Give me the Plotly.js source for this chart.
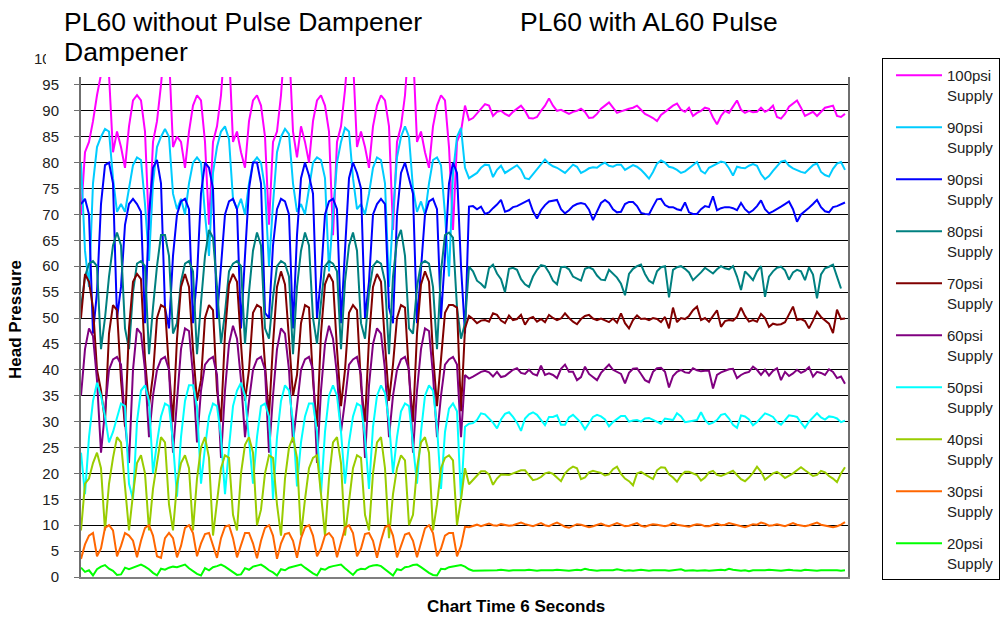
<!DOCTYPE html>
<html>
<head>
<meta charset="utf-8">
<script src="https://cdn.plot.ly/plotly-3.0.1.min.js"></script>
<style>
html,body{margin:0;padding:0;background:#ffffff;}
#chart{width:1004px;height:617px;}
</style>
</head>
<body>
<div id="chart"></div>
<script>
// Head pressure samples: first part "without Pulse Dampener", second part "with AL60 Pulse Dampener"
const psi100Without = [70,82,84,88,93,97,104,97,82,86,83,79,87,92,93,92,86,67,84,88,95,104,101,83,85,84,79,86,91,93,92,84,68,84,87,93,104,102,84,86,82,79,88,92,93,91,85,68,84,86,93,104,103,86,81,87,84,80,88,92,93,91,86,66,84,87,94,104,100,83,86,83,79,87,91,93,92,87,67,84,87,93,104,102,84,86,82,79,87,91,93,92,83,67,84,86,91];
const psi100With = [88.2,88.6,89.5,90.6,91.3,91,89,89.8,90,89.4,89,89.8,90.4,91,90,88.6,88.5,88.8,90,91,92.4,91,90,90.2,89.8,89.4,89.8,90,90.4,89.8,88.6,88.7,89.4,90.4,91,91.6,90.6,89.6,89.9,90.2,90.4,90.6,91,90.2,89.4,89,88.6,88,89.2,89.8,90.4,91,91.4,90.2,89.8,90.6,89,89.6,90,90.6,90.4,88.7,87.4,89,90,89.6,90.8,92,90.2,89.6,90,89.7,89.8,90.6,89.8,90.2,91,88.8,88.5,89.4,90.8,91.4,92,90.6,89,89.4,89.8,89,89.8,90.6,90.8,91,89,88.8,89.4];

const psi90aWithout = [80,63,56,76,83,85,86.5,86,77,70.5,72,70.5,75,79.5,81,80.5,72,61,76,83,85,86.5,85,74,71,73,70,76,80,81,80,70,62,78,83,86,87,84.5,73,71,73,70,76,80,81,80,75,60,72,82,85,86.5,85.5,76,70.5,72,70,75,80,81,80.5,77,59,70,80,84,86.7,86,77,71,72,70,74,79,81,80.5,76,56,70,81,85,87,85,75,70.5,72.5,70,76,80.5,81,79.5,70,58,78,85,86.7,79];
const psi90aWith = [77,77.5,78,79,79.6,79.5,77.2,78.6,79.4,78,78.5,79,79.5,78.6,77,76.8,77.8,78.8,79.7,80.6,79.8,79.3,79,78.5,78,78.8,79.6,79.2,78,78.4,78.9,79.1,79,79.6,80,79.4,79.2,79.6,79.6,78.6,79.1,79.5,79.2,78.6,77.8,76.9,78.2,79.8,80.4,80,79.2,79,78.6,78,78.3,78.9,79.6,80.1,78.4,77.9,79,79.4,79.8,80.2,80,78.9,77.5,79.2,79,78.9,79.4,79.7,79.4,77.8,76.8,77.4,78.4,79.2,80.2,80.4,79.4,78.9,78.5,78.2,78,78.8,79.5,79.8,78.2,77.6,77.3,78.8,79.8,80.1,78.6];

const psi90bWithout = [72,73,70,47,55,72,79.5,80,76,50,56,68,72,73,72,70.5,49,70,79,80.5,76,52,48,62,70,72.5,73,71,49,58,74,80,79,75,50,60,70,72.5,73,71,48,62,75,80,80,76,51,50,64,71,73,72.5,70,48,66,77,80,77.5,74,50,58,70,72.5,73,71,49,64,77,80,78,75,50,57,70,72,73,72,52,49,70,78,80,77,74,49,60,70,72.5,73,71,50,62,76,80,78,60,47];
const psi90bWith = [71.5,71.6,71,71.5,70.1,70.4,71.2,71.9,72.8,70.5,70.8,71.4,71.6,72,72.4,72.8,70.6,69.2,70.8,71.8,72.5,72.6,72.8,71,70.2,70.8,71.6,72,72.2,72,70.9,68.9,70.4,72.2,72.8,72.2,71,70.4,70.5,72,72.4,72.4,71.6,70.3,70.1,70,71.5,72.9,73,71.8,71.4,71.4,71,70.8,72.3,70.4,70.1,70.1,71,71.6,71.4,73.5,70.8,71.2,71.4,71.4,71.2,70.8,72.2,71,70.3,70.8,71.6,72.7,71,70.2,70.6,71,71.5,72,72.5,71,68.6,70,70.6,71.3,72,72.8,71.4,70.6,70.4,71.4,71.6,72,72.3];

const psi80Without = [52,58,60.5,61,60,44,50,58,64,66.5,64,48,44,55,60.5,61,60,43,52,60,66,66,62,47,49,57,60.5,61,59,43,53,62,67,65.5,56,45,51,59,60.5,61,60,45,55,63,66.5,64,48,46,54,60,61,60.5,58,43,56,63,66.5,64,50,45,53,60,61,60.5,59,44,57,64,66.5,63,49,46,55,60,61,60.5,57,43,58,65,67,62,48,47,56,60.5,61,60.5,56,44,59,66,66.5,65.5,52,46,49];
const psi80With = [59.9,59,57.2,56.6,55.8,59.6,60.3,58.6,57.5,55,59.5,59.7,59.3,57.5,56.5,56,58,59.3,60.2,60,58.8,57.2,56.5,59.8,59.9,59.4,58,57.6,57.2,59.5,59.8,59.4,58.2,57.4,57.3,59.3,58.6,57.8,56.6,54.4,58.5,59.5,60,60.3,58.5,57.2,56.7,59,59.8,60,54,59.3,59.8,60,59.5,58.8,57.3,58,58.8,59.7,59.2,58.6,59.4,60,59.6,59.4,60,58,55.4,59,58.2,57.3,59,60,54.1,58,59,59.7,59.9,59.2,57.4,58.8,59.3,59,57.3,59.8,58.4,53.8,58.4,59.6,59.9,60.3,58,55.7,null];

const psi70Without = [50,58.5,57,52,40,36,30,47,52.5,51.5,38,29,48,57,58.5,57.5,42,33,39,50,52.5,52,40,30,46,56,58.5,56,44,34,38,50,52.5,51.5,36,30,47,56.5,58.5,57,45,34,40,51,52.5,52,41,31,45,56,59,56.5,46,35,39,49,52.5,52,38,29,47,56.5,58.5,57,44,33,40,51,52.5,51.5,37,30,46,56,58.5,57,45,34,41,50,52.5,52,39,30,47,56.5,59,57,43,33,42,51,52.5,52.5,52,32,48];
const psi70With = [50.4,49.8,49,49.5,49.6,49.3,50.9,50.6,49.5,49,50.5,49.6,49.8,50.6,48.7,49.9,50.2,49.3,49.8,49.2,50.6,50,49.6,49.9,50.9,50,49.3,48.8,49.8,50.4,50.6,49.9,49.6,49.9,49.6,49.2,49.9,49.1,50.9,49,48,49.6,50.5,49.8,49.9,49.6,50,49.8,49.2,50.2,48,52,49.2,50,49.8,50.4,51.5,52.2,49.6,50,49.3,50.4,51.5,48.3,49.4,49.6,49.5,50.2,52,50.4,49.3,49.6,49.3,50.8,50,48.3,48.9,48.7,48.8,49.2,50.6,52.2,49.6,49.8,49.4,48,49.5,51.2,50.2,49.6,48.9,47.1,51.6,49.8,49.9];

const psi60Without = [35,44,48,46.5,38,24,32,40,42,42.5,41,30,22,40,48,47,40,27,35,40,42,42.5,40,24,34,44,48,47.5,39,26,36,41,42,42.5,39,23,36,45,48.5,46,38,27,34,40,42,42.5,40,24,35,44,48,47,40,26,33,40,42,42.5,40,22,36,45,48.5,46,39,28,34,41,42,42.5,39,23,37,45,48,47,40,27,35,40,42,42.5,40,24,36,44,48,47.5,39,27,35,41,42,42.5,41,27,39];
const psi60With = [38.3,38.7,39.2,39.6,39.8,39.5,38.7,39.6,38.6,38.8,39.4,40,40.3,39.4,39.2,40,39.2,38.9,40.8,39,39.3,39,38.4,40.2,41,39.6,39.6,38,38.6,40.6,39.2,38.6,38,39.4,40.2,41,40,39.6,39.2,37.4,39.4,40.2,40.3,39.2,38,37.6,39.6,40.3,40.4,39.6,36.6,38.8,39.6,40,39.5,39.4,40.3,39.9,39.7,39.8,39.8,36.4,39,39.5,39.8,40.1,40.2,38.4,39,39.4,39.6,40.6,40,39,40,38.9,39.8,40.3,38,39.6,38.8,39.3,40,39.4,39.8,40.5,38.7,39.6,39.4,39,40.1,39.6,38.4,38.7,37.3];

const psi50Without = [24,16,27,34,37.5,35,31,26,28,31,33.5,33,18,15,30,36,37,34,20,26,31,33.5,33,26,15.5,27,34,37,37,33,18,25,31,33.5,33,27,16,25,33,36,37.5,35,27,18,27,33,33.5,31,15,27,34,37,36,30,17.5,26,31,33.5,33.5,28,16,28,35,37,35,28,18,26,31,33.5,33,27,17,29,35,37,35.5,30,20,27,32,33.5,33,26,18,28,35,37,36,29,17,28,32.5,33.5,32,15,29];
const psi50With = [29.6,29.7,30.3,31.6,31.4,30.6,29.8,28.7,30.4,31.5,31.8,30.9,29.8,28.2,30.6,31.4,31.8,31.3,30.2,29.3,30.9,30.9,31.2,29.4,29.4,30.8,31.3,30.5,29.8,28.5,29.6,30.9,31.3,31,30.4,29.1,29.9,30.5,31.1,31.1,30,30.2,30.3,30,30.6,30.7,30.3,29.9,29.6,30.6,30.5,30.3,31.6,31,29.9,30,30.1,30.3,31.8,30.3,29.5,29.8,30.3,31.3,31.5,30.6,29.4,28.8,31.2,31,30.4,29.3,29.9,30.8,31.6,31.3,30.9,29.9,29.4,30.3,31.2,31.1,30.9,29.8,28.8,30,30.8,31.6,30.8,30.4,31,30.9,30.6,29.9,30.2];

const psi40Without = [9,18,19,22,24,21,9,18,23,27,26,18,9,16,22,23.5,20,9,17,22,27,26,14,9,18,22,23.5,21,9,19,25,27,23,8,15,21,23.5,23,12,9,20,25.5,27,24,10,13,20,23.5,23,14,8,19,25,27,23,8,15,21,23,23.5,16,8,19,26,27,22,8,15,21,23.5,23,12,9,20,26,27,21,7.5,16,21,23.5,22.5,10,12,21,26,27,24,9,14,21,23,23.5,22.5,10,15,21];
const psi40With = [17.9,18.7,19.7,20.4,20.4,19.8,17.8,19,19.8,19.8,19.7,20,20.3,20.6,20.6,19.6,18.7,18.9,19.3,20,20.2,19.9,19.2,18.5,20,20.8,21.3,21,18.9,19.2,20.2,20.5,20.3,20.1,19.6,19.8,20.8,21.3,19.9,19,18.5,17.7,20,20.3,19.8,19.4,18.9,20.6,21.2,21.1,19.8,19.2,18.4,19.6,20.3,20.3,20,19.7,18.6,19.2,20.2,20.5,19.7,19.5,19.8,20.2,20.5,19.7,18.9,18.5,19.2,20.1,21.3,20.3,18.8,19.4,20,20.3,19.8,19.1,19.5,20,20.6,21.2,20.6,20,19.5,19.7,20.5,20.2,19.5,19,18.3,20,21.2];

const psi30Without = [3.5,6.3,8,8.5,4,5.5,9.5,10,9,4,6,8.5,8,7,3.8,7,9.5,10,8,4,3.7,7.5,8.5,7.5,3.8,6,9.5,10,8.5,4,6.5,8.3,8.5,6,3.7,7.5,9.7,10,7.5,3.8,6,8.5,8.5,6.5,3.6,7,9.5,10,8,3.5,6.5,8.3,8.5,7,3.7,7.5,9.6,10,8,4,5.5,8,8.5,7.5,3.8,6.5,9.5,10,8.5,4,5.5,8.3,8.5,7,3.7,7,9.6,10,8,3.8,6,8.2,8.5,7,3.8,6.5,9.4,10,8.5,4,5.5,8,8.5,8.5,4,6,9.7];
const psi30With = [9.6,9.9,10.1,9.8,10,10.3,10,9.9,10.2,10.1,9.9,10,10.3,10.5,10.2,10,9.8,10.1,10.4,10,9.8,10.2,10.5,10.1,9.7,9.5,9.9,10.2,10.1,9.8,9.6,9.8,10.1,10.3,10,9.8,10.1,10.4,10.1,9.8,9.9,10.2,10.4,9.9,9.7,10,10.2,10.1,9.9,9.8,10,10.4,10.1,10,9.8,9.7,10,10.2,10.1,9.8,9.8,10.1,10.3,10,10.1,10.4,10.2,9.9,9.7,9.6,9.9,10.2,10.1,10.5,10.3,9.9,10,10.2,10,9.8,10.1,10.4,10.1,9.9,9.8,10,10.2,10.5,10.1,9.9,9.7,9.6,9.8,10.1,10.6];

const psi20Without = [1.8,1.0,1.3,0.3,1.5,2.0,2.3,1.6,1.2,0.4,0.5,1.8,1.5,1.8,2.1,2.4,2.0,1.5,0.8,0.3,1.6,1.4,1.8,2.0,1.9,2.2,2.4,1.7,1.2,0.6,0.3,1.7,1.3,1.9,2.1,2.4,2.0,1.5,1.0,0.4,0.5,1.7,1.4,2.0,2.2,2.4,1.9,1.3,0.9,0.3,1.5,1.3,1.8,2.0,2.2,2.4,1.8,1.2,0.7,0.3,1.6,1.4,1.9,2.1,2.3,2.4,1.7,1.1,0.4,1.3,1.6,1.5,2.0,2.2,2.3,2.1,1.5,0.9,0.3,1.5,1.3,1.9,2.0,2.3,2.4,1.9,1.3,0.8,0.4,0.3,1.6,1.5,1.9,2.0,2.1,2.3,2.0];
const psi20With = [1.5,1.2,1.2,1.3,1.2,1.3,1.2,1.3,1.4,1.3,1.2,1.3,1.3,1.2,1.3,1.4,1.3,1.2,1.3,1.3,1.2,1.3,1.4,1.3,1.3,1.2,1.3,1.4,1.3,1.6,1.4,1.3,1.2,1.3,1.3,1.4,1.3,1.5,1.3,1.2,1.3,1.2,1.3,1.4,1.3,1.2,1.3,1.3,1.4,1.3,1.2,1.3,1.3,1.5,1.2,1.3,1.3,1.2,1.3,1.3,1.2,1.3,1.3,1.4,1.3,1.6,1.4,1.3,1.2,1.3,1.1,1.3,1.3,1.2,1.3,1.4,1.3,1.3,1.2,1.3,1.4,1.3,1.3,1.2,1.4,1.3,1.3,1.2,1.3,1.3,1.4,1.3,1.3,1.2,1.3];

const seriesNames = ['100psi<br>Supply','90psi<br>Supply','90psi<br>Supply','80psi<br>Supply','70psi<br>Supply','60psi<br>Supply','50psi<br>Supply','40psi<br>Supply','30psi<br>Supply','20psi<br>Supply'];
const seriesColors = ['#FF00FF','#00CCFF','#0000FF','#008080','#800000','#800080','#00FFFF','#99CC00','#FF6600','#00FF00'];
const seriesWithout = [psi100Without,psi90aWithout,psi90bWithout,psi80Without,psi70Without,psi60Without,psi50Without,psi40Without,psi30Without,psi20Without];
const seriesWith = [psi100With,psi90aWith,psi90bWith,psi80With,psi70With,psi60With,psi50With,psi40With,psi30With,psi20With];
const yTicks = [0,5,10,15,20,25,30,35,40,45,50,55,60,65,70,75,80,85,90,95,100];

const traces = seriesNames.map((name, k) => {
  const y = seriesWithout[k].concat(seriesWith[k]);
  const x = y.map((_, i) => i);
  return {
    type: 'scatter', mode: 'lines', x: x, y: y, name: name,
    line: {color: seriesColors[k], width: 2},
    legendgroup: 'g' + k, hoverinfo: 'skip'
  };
});

const W = 767, H = 518, L = 81, T = 59;
const px = v => (v - L) / W;
const py = v => (T + H - v) / H;

const layout = {
  width: 1004, height: 617,
  margin: {l: 81, r: 156, t: 59, b: 40, autoexpand: false},
  paper_bgcolor: '#ffffff', plot_bgcolor: '#ffffff',
  font: {family: '"Liberation Sans", Arial, sans-serif', size: 15, color: '#000'},
  showlegend: true,
  xaxis: {range: [0, 191.75], showticklabels: false, ticks: '', showgrid: false, zeroline: false,
          showline: true, linecolor: '#7f7f7f', linewidth: 2, mirror: true, fixedrange: true},
  yaxis: {range: [0, 100], tickmode: 'array', tickvals: yTicks, showgrid: true, gridcolor: '#000', gridwidth: 1,
          zeroline: false, showline: true, linecolor: '#6f6f6f', linewidth: 2, mirror: true,
          ticks: 'outside', ticklen: 5, tickcolor: '#6f6f6f', tickwidth: 1,
          tickfont: {size: 15, color: '#222'}, ticklabelstandoff: 12, fixedrange: true},
  legend: {x: px(882), y: py(58), xanchor: 'left', yanchor: 'top', bordercolor: '#000', borderwidth: 1,
           bgcolor: '#fff', font: {size: 15, color: '#222'}, tracegroupgap: 10, valign: 'top',
           itemwidth: 46, indentation: 8, traceorder: 'grouped', maxheight: 560},
  shapes: [{type: 'rect', xref: 'paper', yref: 'paper', x0: px(46), x1: px(856), y0: py(77), y1: py(-10),
            fillcolor: '#ffffff', line: {width: 0}, layer: 'above'}],
  annotations: [
    {text: 'PL60 without Pulse Dampener', xref: 'paper', yref: 'paper', x: px(62), y: py(22), xanchor: 'left', yanchor: 'middle', showarrow: false, font: {size: 26.5, color: '#000'}},
    {text: 'Dampener', xref: 'paper', yref: 'paper', x: px(62), y: py(52), xanchor: 'left', yanchor: 'middle', showarrow: false, font: {size: 26.5, color: '#000'}},
    {text: 'PL60 with AL60 Pulse', xref: 'paper', yref: 'paper', x: px(518), y: py(22), xanchor: 'left', yanchor: 'middle', showarrow: false, font: {size: 26.5, color: '#000'}},
    {text: '<b>Head Pressure</b>', xref: 'paper', yref: 'paper', x: px(15), y: py(320), xanchor: 'center', yanchor: 'middle', textangle: -90, showarrow: false, font: {size: 17, color: '#000'}},
    {text: '<b>Chart Time 6 Seconds</b>', xref: 'paper', yref: 'paper', x: px(516), y: py(606), xanchor: 'center', yanchor: 'middle', showarrow: false, font: {size: 17, color: '#000'}}
  ]
};

Plotly.newPlot('chart', traces, layout, {staticPlot: true, displayModeBar: false});
</script>
</body>
</html>
